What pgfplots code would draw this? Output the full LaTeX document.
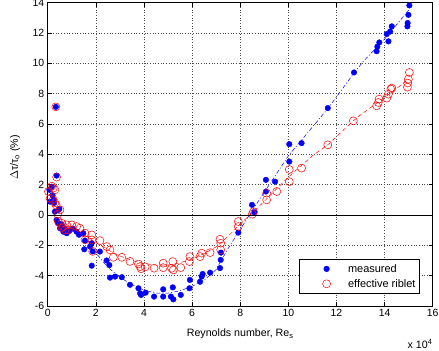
\documentclass[border=0pt]{standalone}
\usepackage{pgfplots}
\pgfplotsset{compat=1.18}
\usetikzlibrary{calc}
\usepackage{fontspec}
\setmainfont{Liberation Sans}
\begin{document}
\begin{tikzpicture}
\begin{axis}[
  name=ax,
  scale only axis,
  width=385bp, height=303.3bp,
  xmin=0, xmax=16, ymin=-6, ymax=14,
  xtick={0,2,...,16}, ytick={-6,-4,...,14},
  clip mode=individual,
  tick align=inside,
  major tick length=4bp,
  every tick/.style={black, line width=0.5pt},
  axis line style={black, line width=0.6pt},
  grid=major,
  major grid style={black!70, line width=0.5pt, dash pattern=on 0.5pt off 2.2pt},
  /pgf/number format/assume math mode=true,
  tick label style={font=\fontsize{10.5}{12}\selectfont},
  label style={font=\fontsize{10.7}{12}\selectfont},
  xlabel={Reynolds number, Re\textsubscript{s}},
  ylabel={$\Delta$τ/τ\textsubscript{o} (\%)},
  xlabel style={at={(rel axis cs:0.5,0)}, anchor=base, yshift=-30.5bp},
  ylabel style={at={(rel axis cs:0,0.5)}, anchor=center, yshift=32.7bp, xshift=-3bp},
  legend style={at={(0.965,0.042)}, anchor=south east, draw=black, fill=white,
    font=\fontsize{11}{12}\selectfont, line width=0.5pt, inner xsep=1.5bp, inner ysep=2.5bp,
    row sep=1.5bp},
  legend cell align=left,
  legend image code/.code={\path[draw=none, fill=none] (0bp,0bp) -- (45bp,0bp); \draw[#1] plot coordinates {(25.5bp,0bp)};},
]
\addplot[only marks, mark=*, mark size=2.8bp, draw=blue, fill=blue] coordinates {
(0.34,7.13) (0.37,2.6) (0.07,1.66) (0.17,1.87) (0.10,0.88) (0.27,0.80)
(0.30,0.22) (0.44,0.34) (0.48,0.40) (0.37,-0.32) (0.44,-0.54) (0.51,-0.87)
(0.65,-1.10) (0.79,-1.20) (0.60,-0.70) (0.72,-0.95) (0.20,1.30) (0.25,1.00)
(0.55,-0.60) (0.90,-1.05) (1.05,-0.90) (1.30,-1.30)
(1.20,-1.10) (1.48,-1.20) (1.55,-1.69) (1.52,-2.26) (1.76,-2.08) (1.83,-1.86)
(1.87,-2.40) (1.83,-3.34) (2.17,-2.41) (2.45,-3.00) (2.56,-3.30) (2.59,-4.13)
(2.80,-4.06) (3.08,-4.10) (3.42,-4.60) (3.77,-4.83) (3.84,-5.16) (3.88,-5.27)
(4.07,-5.12) (4.42,-5.38) (4.80,-4.90) (4.80,-5.38) (5.20,-4.77) (5.12,-5.38)
(5.22,-5.56) (5.53,-5.27) (5.89,-4.83) (5.91,-4.28) (6.33,-4.40) (6.40,-4.06)
(6.44,-3.89) (6.75,-3.80) (7.16,-3.50) (7.19,-2.96) (7.20,-2.48) (7.92,-1.16)
(8.49,0.67) (8.59,0.18) (9.07,1.55) (9.07,2.32) (9.45,2.20) (10.04,3.52)
(10.04,4.67) (10.55,4.74) (11.64,7.05) (12.73,9.40) (13.67,10.80) (13.70,11.10)
(13.78,11.38) (14.16,11.45) (14.09,11.93) (14.23,12.10) (14.30,12.44) (14.95,12.44)
(14.96,12.66) (14.99,13.20) (15.03,13.82)
};
\addlegendentry{measured}
\addplot[only marks, mark=o, mark size=4bp, draw=red, line width=0.5pt] coordinates {
(0.34,7.13) (0.37,2.50) (0.03,1.55) (0.17,1.90) (0.23,1.77) (0.30,1.66)
(0.10,1.10) (0.23,1.00) (0.30,0.80) (0.35,0.65) (0.51,0.34) (0.42,0.05)
(0.44,-0.43) (0.58,-0.54) (0.65,-0.76) (0.79,-0.65) (0.86,-0.98) (0.72,-0.98)
(0.60,-0.85) (1.00,-0.65) (1.20,-0.76) (1.34,-0.87) (1.55,-1.20) (1.55,-1.64)
(1.83,-1.31) (1.83,-1.64) (1.87,-2.40) (2.17,-1.69) (2.45,-2.08) (2.59,-2.30)
(2.73,-2.79) (3.08,-2.79) (3.42,-3.06) (3.77,-3.23) (3.84,-3.40) (3.88,-3.54)
(4.05,-3.42) (4.42,-3.51) (4.80,-3.18) (4.80,-3.47) (5.20,-3.07) (5.15,-3.51)
(5.22,-3.62) (5.53,-3.47) (5.91,-2.74) (5.89,-3.07) (6.33,-2.74) (6.40,-2.52)
(6.75,-2.48) (7.16,-1.60) (7.19,-1.86) (7.19,-2.30) (7.92,-0.43) (7.92,-0.76)
(8.55,0.22) (8.50,0.05) (9.10,1.00) (9.10,1.44) (9.52,1.55) (10.04,2.20)
(10.04,3.00) (10.55,3.09) (11.64,4.63) (12.70,6.21) (13.67,7.20) (13.74,7.42)
(13.77,7.64) (14.09,7.71) (14.16,7.97) (14.26,8.30) (14.30,8.37) (14.95,8.43)
(14.96,8.70) (14.99,8.96) (15.03,9.40)
};
\addlegendentry{effective riblet}
\addplot[blue, line width=0.5pt, dash pattern=on 4bp off 2bp on 1bp off 2bp, forget plot] coordinates {
(1.8,-2.2) (2,-2.5) (2.5,-3.45) (3,-4.1) (3.5,-4.6) (4,-4.95) (4.5,-5.15) (5,-5.15)
(5.5,-5.0) (6,-4.7) (6.5,-4.3) (7,-3.6) (7.5,-2.2) (8,-0.95) (8.5,0.3) (9,1.5)
(9.5,2.7) (10,3.9) (11,5.8) (11.66,7.05) (12.7,9.3) (13.1,10.1) (14,11.6) (15,13.5)
};
\addplot[red, line width=0.5pt, dash pattern=on 4bp off 3bp, forget plot] coordinates {
(1.5,-1.3) (2,-1.8) (2.5,-2.3) (3,-2.7) (3.5,-3.0) (4,-3.2) (4.5,-3.3) (5,-3.3)
(5.5,-3.15) (6,-2.9) (6.5,-2.55) (7,-2.1) (7.5,-1.4) (8,-0.6) (8.5,0.15) (9,0.9)
(10,2.5) (11,3.9) (11.64,4.63) (12.7,6.21) (13,6.6) (14,7.75) (15,8.95)
};
\addplot[black, line width=0.6pt, forget plot] coordinates {(0,0) (16,0)};
\end{axis}
\node[anchor=base east, font=\fontsize{10.7}{12}\selectfont, inner sep=0pt] at ($(ax.south east)+(0bp,-42bp)$) {x 10\textsuperscript{4}};
\pgfresetboundingbox
\path[use as bounding box] ([shift={(-47.7bp,-45bp)}]ax.south west) rectangle ([shift={(6.3bp,2.7bp)}]ax.north east);
\end{tikzpicture}
\end{document}
